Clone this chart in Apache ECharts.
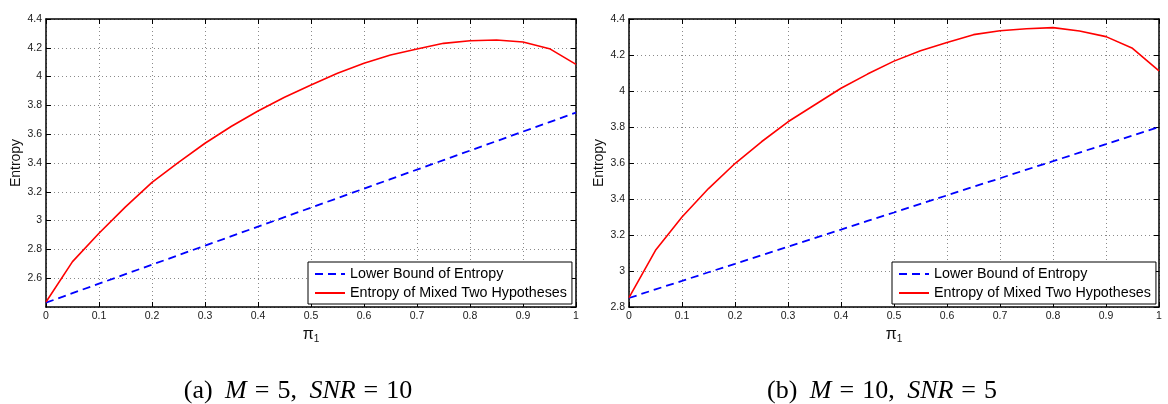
<!DOCTYPE html>
<html>
<head>
<meta charset="utf-8">
<script src="https://cdn.jsdelivr.net/npm/echarts@6/dist/echarts.min.js"></script>
<style>
  html, body { margin: 0; padding: 0; background: #fff; }
  #chart { width: 1168px; height: 404px; }
</style>
</head>
<body>
<div id="chart"></div>
<script>
// Prior probability pi_1 of the first hypothesis
const piValues = [0, 0.05, 0.1, 0.15, 0.2, 0.25, 0.3, 0.35, 0.4, 0.45, 0.5,
                  0.55, 0.6, 0.65, 0.7, 0.75, 0.8, 0.85, 0.9, 0.95, 1];

// (a) M = 5, SNR = 10
const lowerBoundA = [2.430, 2.496, 2.562, 2.628, 2.694, 2.760, 2.826, 2.892, 2.958, 3.024, 3.090,
                     3.156, 3.222, 3.288, 3.354, 3.420, 3.486, 3.552, 3.618, 3.684, 3.750];
const mixedA = [2.435, 2.715, 2.912, 3.095, 3.265, 3.405, 3.537, 3.655, 3.761, 3.857, 3.942,
                4.023, 4.092, 4.150, 4.192, 4.231, 4.249, 4.254, 4.240, 4.194, 4.085];

// (b) M = 10, SNR = 5
const lowerBoundB = [2.850, 2.898, 2.945, 2.993, 3.040, 3.088, 3.135, 3.183, 3.230, 3.278, 3.325,
                     3.373, 3.420, 3.468, 3.515, 3.563, 3.610, 3.658, 3.705, 3.753, 3.800];
const mixedB = [2.852, 3.115, 3.300, 3.458, 3.597, 3.718, 3.829, 3.922, 4.015, 4.094, 4.166,
                4.224, 4.270, 4.313, 4.335, 4.346, 4.352, 4.333, 4.302, 4.237, 4.112];

const yRangeA = { min: 2.4, max: 4.4, showMin: false };
const yRangeB = { min: 2.8, max: 4.4, showMin: true };
const tickStep = 0.2;

const seriesNames = ['Lower Bound of Entropy', 'Entropy of Mixed Two Hypotheses'];
const xAxisName = '{p|π}{s|1}';
const yAxisName = 'Entropy';

const FONT = '"Liberation Sans", Arial, sans-serif';
const SERIF = '"Liberation Serif", "Times New Roman", serif';

const toPairs = (xs, ys) => xs.map((x, i) => [x, ys[i]]);

const gridLayouts = [
  { left: 46, top: 19, width: 530, height: 288 },
  { left: 629, top: 19, width: 530, height: 288 }
];

const boxLine = { show: true, onZero: false, lineStyle: { color: '#000', width: 1.5 } };
const inTick = { show: true, inside: true, length: 5, lineStyle: { color: '#000', width: 1 } };
const dotted = { show: true, lineStyle: { color: '#8a8a8a', width: 1, type: [1, 3] } };
const tickLabel = { color: '#1a1a1a', fontSize: 10.5, fontFamily: FONT, margin: 4 };

function xAxesFor(gridIndex) {
  return [
    {
      type: 'value', gridIndex, min: 0, max: 1, interval: 0.1, position: 'bottom',
      axisLine: boxLine, axisTick: inTick, splitLine: dotted, axisLabel: tickLabel,
      name: xAxisName, nameLocation: 'middle', nameGap: 14,
      nameTextStyle: {
        fontFamily: FONT, color: '#111',
        rich: {
          p: { fontSize: 16, fontFamily: FONT, color: '#111' },
          s: { fontSize: 10, fontFamily: FONT, color: '#111', padding: [9, 0, 0, 0] }
        }
      }
    },
    {
      type: 'value', gridIndex, min: 0, max: 1, interval: 0.1, position: 'top',
      axisLine: boxLine, axisTick: inTick, splitLine: { show: false }, axisLabel: { show: false }
    }
  ];
}

function yAxesFor(gridIndex, range) {
  return [
    {
      type: 'value', gridIndex, min: range.min, max: range.max, interval: tickStep, position: 'left',
      axisLine: boxLine, axisTick: inTick, splitLine: dotted,
      axisLabel: Object.assign({}, tickLabel, { showMinLabel: range.showMin }),
      name: yAxisName, nameLocation: 'middle', nameGap: 22, nameRotate: 90,
      nameTextStyle: { fontFamily: FONT, fontSize: 14, color: '#111' }
    },
    {
      type: 'value', gridIndex, min: range.min, max: range.max, interval: tickStep, position: 'right',
      axisLine: boxLine, axisTick: inTick, splitLine: { show: false }, axisLabel: { show: false }
    }
  ];
}

function seriesFor(axisIndex, lower, mixed) {
  return [
    {
      name: seriesNames[0], type: 'line', xAxisIndex: axisIndex, yAxisIndex: axisIndex,
      data: toPairs(piValues, lower), symbol: 'none', smooth: false,
      lineStyle: { color: '#0000ff', width: 1.8, type: [8, 5] }, itemStyle: { color: '#0000ff' }
    },
    {
      name: seriesNames[1], type: 'line', xAxisIndex: axisIndex, yAxisIndex: axisIndex,
      data: toPairs(piValues, mixed), symbol: 'none', smooth: false,
      lineStyle: { color: '#ff0000', width: 1.6, type: 'solid' }, itemStyle: { color: '#ff0000' }
    }
  ];
}

function legendAt(left) {
  return {
    left, top: 262, orient: 'vertical',
    data: seriesNames,
    backgroundColor: '#fff', borderColor: '#000', borderWidth: 1, borderRadius: 0,
    padding: [5, 5, 4, 6], itemGap: 5, itemWidth: 30, itemHeight: 14,
    itemStyle: { opacity: 0 },
    textStyle: { fontFamily: FONT, fontSize: 14.3, color: '#000' },
    selectedMode: false
  };
}

function caption(x, letter, m, snr) {
  return {
    type: 'text', x, y: 391,
    style: {
      text: '{n|(' + letter + ')}{s| }{i|M}{e|=}{n|' + m + ',}{s| }{i|SNR}{e|=}{n|' + snr + '}',
      align: 'center', verticalAlign: 'middle',
      rich: {
        n: { fontFamily: SERIF, fontSize: 26, fill: '#000' },
        i: { fontFamily: SERIF, fontSize: 26, fontStyle: 'italic', fill: '#000' },
        e: { fontFamily: SERIF, fontSize: 26, fill: '#000', padding: [0, 8, 0, 8] },
        s: { fontFamily: SERIF, fontSize: 26, fill: '#000', padding: [0, 3, 0, 3] }
      }
    }
  };
}

const chart = echarts.init(document.getElementById('chart'), null, { renderer: 'canvas' });
chart.setOption({
  animation: false,
  backgroundColor: '#fff',
  grid: gridLayouts,
  xAxis: [...xAxesFor(0), ...xAxesFor(1)],
  yAxis: [...yAxesFor(0, yRangeA), ...yAxesFor(1, yRangeB)],
  legend: [legendAt(308), legendAt(892)],
  series: [
    ...seriesFor(0, lowerBoundA, mixedA),
    ...seriesFor(2, lowerBoundB, mixedB)
  ],
  graphic: [
    caption(298, 'a', 5, 10),
    caption(882, 'b', 10, 5)
  ]
});
</script>
</body>
</html>
